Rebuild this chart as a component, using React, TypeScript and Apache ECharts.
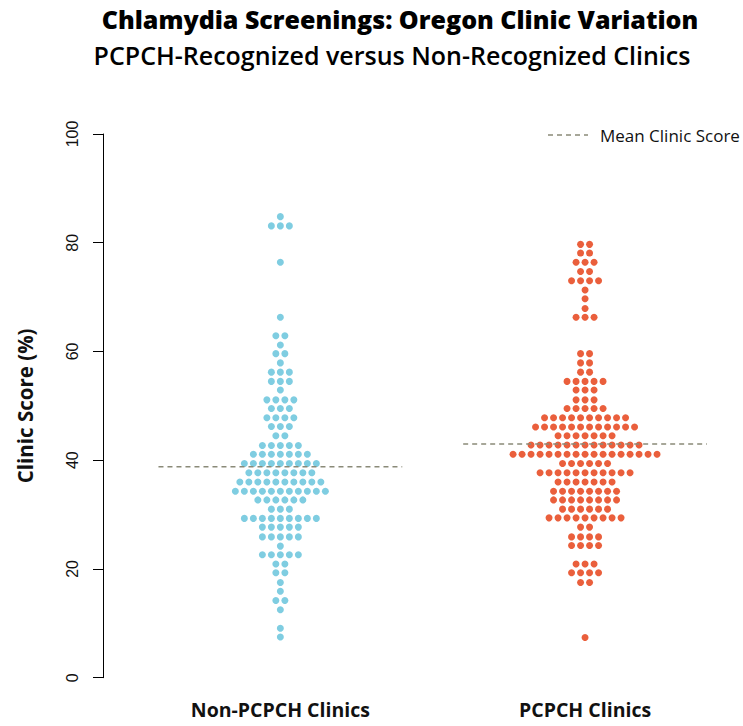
import React, { useEffect, useRef } from "react";
import * as echarts from "echarts";

// ---- data ----
const groupLabels = ["Non-PCPCH Clinics", "PCPCH Clinics"];

// Non-PCPCH clinics: score levels (%) and how many clinics sit at each level
const nonPcpchScores = [
  84.8, 83.1, 76.4, 66.3, 62.9, 61.2, 59.6, 57.9, 56.2, 54.5, 52.9, 51.1, 49.5,
  47.8, 46.2, 44.5, 42.7, 41.1, 39.4, 37.7, 36.0, 34.3, 32.7, 31.0, 29.3, 27.7,
  25.9, 24.2, 22.6, 20.9, 19.3, 17.5, 15.9, 14.2, 12.5, 9.1, 7.5,
];
const nonPcpchCounts = [
  1, 3, 1, 1, 2, 1, 2, 1, 3, 3, 1, 4, 3, 4, 3, 2, 5, 7, 9, 8, 10, 11, 6, 3, 9, 5,
  5, 1, 5, 2, 2, 1, 1, 2, 1, 1, 1,
];

// PCPCH clinics
const pcpchScores = [
  79.7, 78.1, 76.4, 74.7, 73.0, 71.3, 69.7, 67.9, 66.3, 59.6, 57.9, 56.2, 54.5,
  52.9, 51.1, 49.5, 47.8, 46.1, 44.5, 42.8, 41.1, 39.4, 37.7, 36.0, 34.3, 32.7,
  31.0, 29.4, 27.7, 25.9, 24.3, 20.9, 19.3, 17.5, 7.4,
];
const pcpchCounts = [
  2, 2, 3, 2, 4, 1, 1, 1, 3, 2, 2, 2, 5, 3, 3, 5, 10, 12, 7, 13, 17, 6, 11, 7, 8,
  8, 6, 9, 2, 4, 4, 3, 4, 2, 1,
];

const meanScores = [38.8, 43.0];
const yTicks = [0, 20, 40, 60, 80, 100];

const titleText = "Chlamydia Screenings: Oregon Clinic Variation";
const subtitleText = "PCPCH-Recognized versus Non-Recognized Clinics";
const yAxisTitle = "Clinic Score (%)";
const legendText = "Mean Clinic Score";

// ---- style / layout ----
const W = 743;
const H = 726;
const GRID_LEFT = 128;
const GRID_WIDTH = 609.4;
const GRID_TOP = 134;
const GRID_BOTTOM = 48.3;
const DOT_STEP_PX = 9;
const PX_PER_UNIT = GRID_WIDTH / 2; // value axis spans -0.5..1.5
const BLUE = "#7fcde1";
const ORANGE = "#ea5f3c";
const MEAN_COLOR = "#8a8a78";
const FONT = "'Open Sans', 'Noto Sans', sans-serif";

function swarm(group: number, scores: number[], counts: number[]) {
  const dx = DOT_STEP_PX / PX_PER_UNIT;
  const pts: number[][] = [];
  scores.forEach((s, r) => {
    const n = counts[r];
    for (let i = 0; i < n; i++) {
      pts.push([group + (i - (n - 1) / 2) * dx, s]);
    }
  });
  return pts;
}

export default function App() {
  const ref = useRef<HTMLDivElement>(null);
  useEffect(() => {
    if (!ref.current) return;
    const chart = echarts.init(ref.current, undefined, { renderer: "svg" });
    const option: any = {
      animation: false,
      backgroundColor: "#ffffff",
      grid: {
        left: GRID_LEFT,
        width: GRID_WIDTH,
        top: GRID_TOP,
        bottom: GRID_BOTTOM,
      },
      xAxis: [
        { type: "value", min: -0.5, max: 1.5, show: false },
        {
          type: "category",
          data: groupLabels,
          boundaryGap: true,
          position: "bottom",
          axisLine: { show: false },
          axisTick: { show: false },
          axisLabel: {
            margin: 22,
            fontSize: 19.5,
            fontWeight: "bold",
            fontFamily: FONT,
            color: "#111",
          },
          splitLine: { show: false },
        },
      ],
      yAxis: {
        type: "value",
        min: yTicks[0],
        max: yTicks[yTicks.length - 1],
        interval: yTicks[1] - yTicks[0],
        offset: 25,
        axisLine: {
          show: true,
          onZero: false,
          lineStyle: { color: "#000", width: 1 },
        },
        axisTick: { show: true, length: 10, lineStyle: { color: "#000" } },
        axisLabel: {
          rotate: 90,
          fontSize: 16,
          color: "#111",
          fontFamily: "'Liberation Sans', Arial, sans-serif",
          margin: 23,
        },
        splitLine: { show: false },
        name: yAxisTitle,
        nameLocation: "middle",
        nameRotate: 90,
        nameGap: 68,
        nameTextStyle: {
          fontSize: 20.5,
          fontWeight: "bold",
          fontFamily: FONT,
          color: "#111",
        },
      },
      series: [
        {
          type: "scatter",
          xAxisIndex: 0,
          data: swarm(0, nonPcpchScores, nonPcpchCounts),
          symbolSize: 7,
          itemStyle: { color: BLUE, opacity: 1 },
          z: 2,
        },
        {
          type: "scatter",
          xAxisIndex: 0,
          data: swarm(1, pcpchScores, pcpchCounts),
          symbolSize: 7,
          itemStyle: { color: ORANGE, opacity: 1 },
          z: 2,
        },
        ...meanScores.map((m, g) => ({
          type: "line",
          xAxisIndex: 0,
          data: [
            [g - 0.4, m],
            [g + 0.4, m],
          ],
          symbol: "none",
          lineStyle: { color: MEAN_COLOR, width: 1.5, type: [5, 4] },
          z: 3,
        })),
      ],
      graphic: [
        {
          type: "text",
          x: 400,
          y: 19,
          style: {
            text: titleText,
            textAlign: "center",
            textVerticalAlign: "middle",
            fontSize: 25,
            fontWeight: 900,
            fontFamily: FONT,
            fill: "#000",
          },
        },
        {
          type: "text",
          x: 392,
          y: 55,
          style: {
            text: subtitleText,
            textAlign: "center",
            textVerticalAlign: "middle",
            fontSize: 25,
            fontWeight: 600,
            fontFamily: FONT,
            fill: "#000",
          },
        },
        {
          type: "line",
          shape: { x1: 548, y1: 135, x2: 588, y2: 135 },
          style: { stroke: MEAN_COLOR, lineWidth: 1.5, lineDash: [5, 4] },
        },
        {
          type: "text",
          x: 600,
          y: 135,
          style: {
            text: legendText,
            textAlign: "left",
            textVerticalAlign: "middle",
            fontSize: 17,
            fontFamily: FONT,
            fill: "#111",
          },
        },
      ],
    };
    chart.setOption(option);
    return () => chart.dispose();
  }, []);
  return (
    <div
      ref={ref}
      style={{ position: "fixed", left: 0, top: 0, width: W, height: H }}
    />
  );
}
